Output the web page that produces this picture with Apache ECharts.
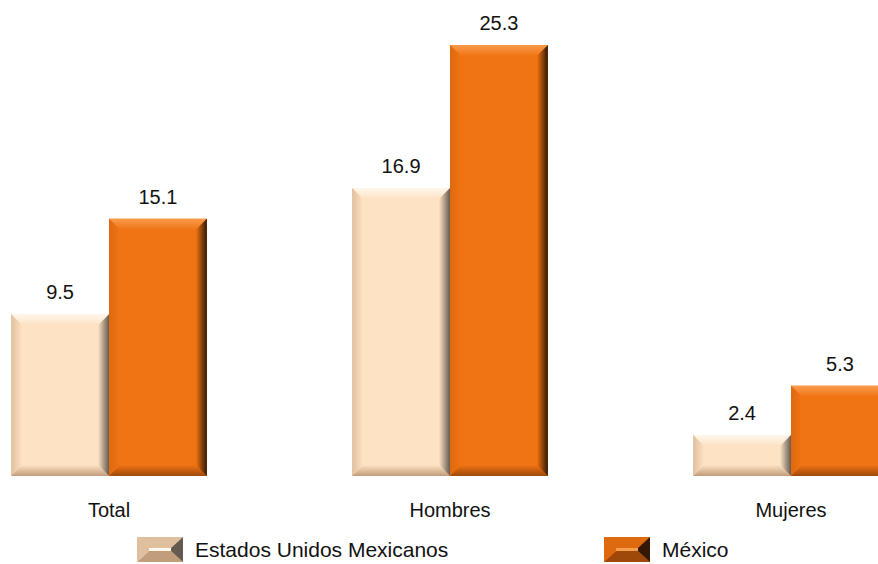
<!DOCTYPE html>
<html>
<head>
<meta charset="utf-8">
<script src="https://cdn.jsdelivr.net/npm/echarts@6/dist/echarts.min.js"></script>
<style>
  html, body { margin: 0; padding: 0; background: #fff; }
  #main { width: 878px; height: 564px; }
</style>
</head>
<body>
<div id="main"></div>
<script>
// datos
var categorias = ['Total', 'Hombres', 'Mujeres'];
var nombres = ['Estados Unidos Mexicanos', 'México'];
var valoresEUM = [9.5, 16.9, 2.4];
var valoresMexico = [15.1, 25.3, 5.3];

// colores del bisel
var durazno = { cara: '#FDE2C3', arriba: '#FFF7EC', izq: '#E0BF9E', abajo: '#C29D7B', der: '#655A51' };
var naranja = { cara: '#F07414', arriba: '#F99C4C', izq: '#DE690E', abajo: '#9E480A', der: '#341803' };

var fuente = '"Liberation Sans", Arial, sans-serif';

function grad(x, y, x2, y2, c1, c2) {
  return new echarts.graphic.LinearGradient(x, y, x2, y2, [
    { offset: 0, color: c1 }, { offset: 1, color: c2 }
  ]);
}

// barra con bisel, lado 0 = izquierda del centro, 1 = derecha
function hacerBarra(pal, lado) {
  return function (params, api) {
    var idx = api.value(0);
    var val = api.value(1);
    var p = api.coord([idx, val]);
    var base = api.coord([idx, 0]);
    var ancho = api.size([1, 0])[0] * 0.287;
    var x0 = lado === 0 ? p[0] - ancho : p[0];
    var x1 = x0 + ancho;
    var y0 = p[1], y1 = base[1];
    var b = Math.min(11, (y1 - y0) / 2);
    return {
      type: 'group',
      children: [
        { type: 'rect', shape: { x: x0, y: y0, width: ancho, height: y1 - y0 }, style: { fill: pal.cara } },
        { type: 'polygon', shape: { points: [[x0, y0], [x1, y0], [x1 - b, y0 + b], [x0 + b, y0 + b]] },
          style: { fill: grad(0, 0, 0, 1, pal.arriba, pal.cara) } },
        { type: 'polygon', shape: { points: [[x0, y0], [x0 + b, y0 + b], [x0 + b, y1 - b], [x0, y1]] },
          style: { fill: grad(0, 0, 1, 0, pal.izq, pal.cara) } },
        { type: 'polygon', shape: { points: [[x0, y1], [x1, y1], [x1 - b, y1 - b], [x0 + b, y1 - b]] },
          style: { fill: grad(0, 0, 0, 1, pal.cara, pal.abajo) } },
        { type: 'polygon', shape: { points: [[x1, y0], [x1 - b, y0 + b], [x1 - b, y1 - b], [x1, y1]] },
          style: { fill: grad(0, 0, 1, 0, pal.cara, pal.der) } },
        { type: 'text', style: {
            text: val.toFixed(1), x: (x0 + x1) / 2, y: y0 - 12,
            align: 'center', verticalAlign: 'bottom',
            fontSize: 20, fontFamily: fuente, fill: '#111'
          } }
      ]
    };
  };
}

// icono de leyenda con bisel; ancho total incluye un margen transparente a la derecha
function icono(pal, total) {
  var w = 46, h = 25, m = 12;
  var svg = '<svg xmlns="http://www.w3.org/2000/svg" width="' + total + '" height="' + h + '" viewBox="0 0 ' + total + ' ' + h + '">' +
    '<rect width="' + w + '" height="' + h + '" fill="' + pal.cara + '"/>' +
    '<polygon points="0,0 ' + w + ',0 ' + (w - m) + ',11 ' + m + ',11" fill="' + pal.izq + '"/>' +
    '<polygon points="0,' + h + ' ' + w + ',' + h + ' ' + (w - m) + ',14 ' + m + ',14" fill="' + pal.abajo + '"/>' +
    '<polygon points="0,0 ' + m + ',11 ' + m + ',14 0,' + h + '" fill="' + pal.izq + '"/>' +
    '<polygon points="' + w + ',0 ' + (w - m) + ',11 ' + (w - m) + ',14 ' + w + ',' + h + '" fill="' + pal.der + '"/>' +
    '<rect x="' + m + '" y="11" width="' + (w - 2 * m) + '" height="3" fill="' + pal.arriba + '"/>' +
    '</svg>';
  return 'image://data:image/svg+xml;charset=utf-8,' + encodeURIComponent(svg);
}

function aDatos(vals) {
  var d = [];
  for (var i = 0; i < vals.length; i++) d.push([i, vals[i]]);
  return d;
}

var chart = echarts.init(document.getElementById('main'), null, { renderer: 'svg' });

var estiloLeyenda = { fontSize: 21, color: '#111', fontFamily: fuente };

var option = {
  backgroundColor: '#fff',
  animation: false,
  grid: { left: -61.5, right: -83.5, top: 16, bottom: 88, outerBoundsMode: 'none', containLabel: false },
  xAxis: {
    type: 'category',
    data: categorias,
    axisLine: { show: false },
    axisTick: { show: false },
    axisLabel: { fontSize: 20, color: '#111', fontFamily: fuente, margin: 24 }
  },
  yAxis: { type: 'value', min: 0, max: 27, show: false },
  legend: [
    {
      left: 137, top: 537, padding: 0, itemWidth: 53, itemHeight: 25, selectedMode: false,
      data: [{ name: nombres[0], icon: icono(durazno, 53) }],
      textStyle: estiloLeyenda
    },
    {
      left: 604, top: 537, padding: 0, itemWidth: 53, itemHeight: 25, selectedMode: false,
      data: [{ name: nombres[1], icon: icono(naranja, 53) }],
      textStyle: estiloLeyenda
    }
  ],
  series: [
    {
      name: nombres[0], type: 'custom', clip: false,
      itemStyle: { color: durazno.cara },
      encode: { x: 0, y: 1 },
      renderItem: hacerBarra(durazno, 0),
      data: aDatos(valoresEUM)
    },
    {
      name: nombres[1], type: 'custom', clip: false,
      itemStyle: { color: naranja.cara },
      encode: { x: 0, y: 1 },
      renderItem: hacerBarra(naranja, 1),
      data: aDatos(valoresMexico)
    }
  ]
};

chart.setOption(option);
</script>
</body>
</html>
